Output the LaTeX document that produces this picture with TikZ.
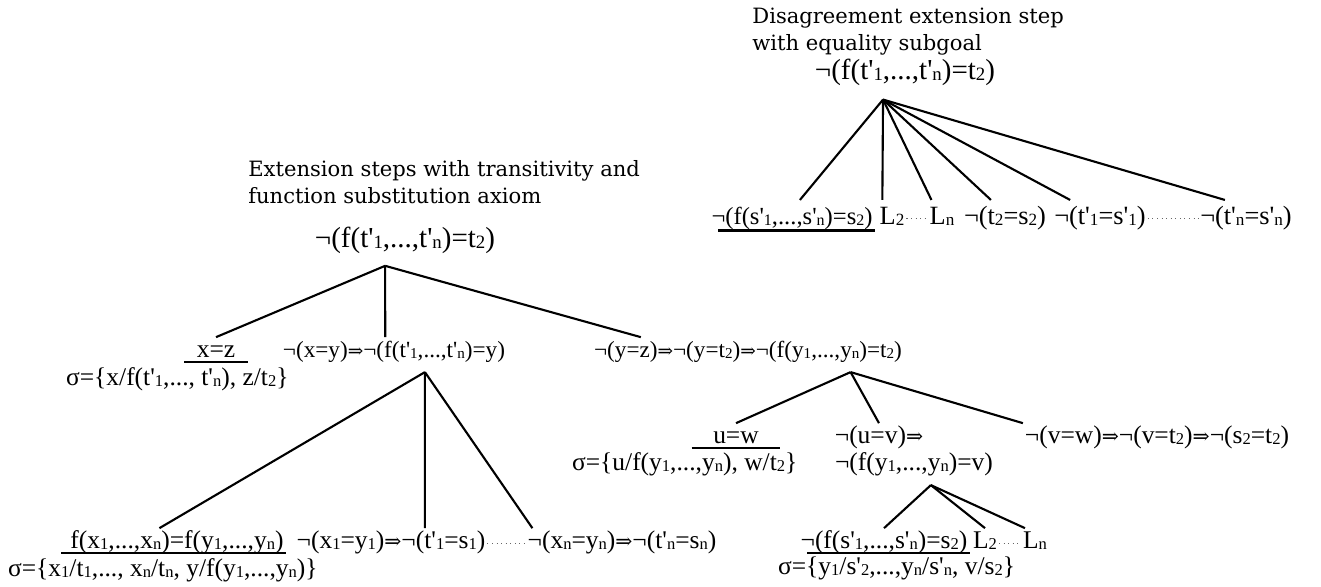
\documentclass[tikz,border=0pt]{standalone}
\usepackage{fontspec}
\setmainfont{Liberation Serif}
\newfontfamily\fmfont{Liberation Serif}
\newfontfamily\headfont{DejaVu Serif}
\newfontfamily\symfont{DejaVu Serif}
\newcommand{\lo}[1]{\raisebox{-0.1ex}{\scalebox{0.65}{#1}}}
\newcommand{\imp}{{\symfont\scalebox{0.8}{⇒}}}

\begin{document}
\begin{tikzpicture}[
  x=0.02cm, y=-0.02cm,
  fm/.style={font=\fmfont\fontsize{14.5pt}{18pt}\selectfont, inner sep=1pt,
    text height=10.5pt, text depth=4pt},
  mid/.style={fm, font=\fmfont\fontsize{13.2pt}{16pt}\selectfont},
  big/.style={font=\fmfont\fontsize{16.5pt}{20pt}\selectfont, inner sep=1pt,
    text height=12.5pt, text depth=4.5pt},
  leaf/.style={big, font=\fmfont\fontsize{15pt}{18pt}\selectfont},
  head/.style={font=\headfont\fontsize{12pt}{15.3pt}\selectfont, align=left, inner sep=0pt},
  edge/.style={line width=1.2pt},
  closed/.style={line width=1.2pt},
  leader/.style={dotted, line width=0.6pt, black!60}
]
\useasboundingbox (0,0) rectangle (1321,587);

% Disagreement step (top right)
\node[head, anchor=north west] (hd2) at (752,8) {Disagreement extension step\\with equality subgoal};
\node[big] (r2) at (905,72) {¬(f(t'\lo1,...,t'\lo n)=t\lo2)};
\coordinate (r2-ft) at ([xshift=-12.5pt,yshift=-6pt]r2.south);

\node[leaf, font=\fmfont\fontsize{14pt}{18pt}\selectfont] (s1n) at (792,217) {¬(f(s'\lo1,...,s'\lo n)=s\lo2)};
\node[leaf] (L2)   at (892,217)  {L\lo2};
\node[leaf] (Ln)   at (942,217)  {L\lo n};
\node[leaf] (t2s2) at (1005,217) {¬(t\lo2=s\lo2)};
\node[leaf] (t1s1) at (1100,217) {¬(t'\lo1=s'\lo1)};
\node[leaf] (tnsn) at (1246,217) {¬(t'\lo n=s'\lo n)};

\draw[edge] (r2-ft) -- ([xshift=4.5pt]s1n.north);
\draw[edge] (r2-ft) -- ([xshift=-5.5pt]L2.north);
\draw[edge] (r2-ft) -- ([xshift=-6pt]Ln.north);
\draw[edge] (r2-ft) -- ([xshift=-8pt]t2s2.north);
\draw[edge] (r2-ft) -- ([xshift=-17pt]t1s1.north);
\draw[edge] (r2-ft) -- ([xshift=-12pt]tnsn.north);

\draw[closed] ([xshift=5pt,yshift=2pt]s1n.south west) -- ([yshift=2pt]s1n.south east);
\draw[leader] ([yshift=3pt]L2.base east) -- ([yshift=3pt]Ln.base west);
\draw[leader] ([yshift=3pt]t1s1.base east) -- ([yshift=3pt]tnsn.base west);

% Transitivity and function substitution (left)
\node[head, anchor=north west] (hd1) at (248,160) {Extension steps with transitivity and\\function substitution axiom};
\node[big] (r1) at (405,240) {¬(f(t'\lo1,...,t'\lo n)=t\lo2)};
\coordinate (r1-ft) at ([xshift=-11.3pt,yshift=-5pt]r1.south);

\node[fm, minimum width=36pt] (xz) at (216,352) {x=z};
\node[fm, anchor=west] (sg1) at (64,380) {σ=\{x/f(t'\lo1,..., t'\lo n), z/t\lo2\}};
\node[mid] (c12) at (394,352) {¬(x=y)\imp¬(f(t'\lo1,...,t'\lo n)=y)};
\node[mid] (c13) at (748,352) {¬(y=z)\imp¬(y=t\lo2)\imp¬(f(y\lo1,...,y\lo n)=t\lo2)};

\draw[edge] (r1-ft) -- (xz.north);
\draw[edge] (r1-ft) -- ([xshift=-5pt]c12.north);
\draw[edge] (r1-ft) -- ([xshift=-61pt]c13.north);
\draw[closed] ([yshift=3pt]xz.south west) -- ([yshift=3pt]xz.south east);

% function substitution below
\coordinate (c12-ft) at ([xshift=17.6pt,yshift=-3pt]c12.south);
\node[fm] (fx) at (177,543) {f(x\lo1,...,x\lo n)=f(y\lo1,...,y\lo n)};
\node[fm, anchor=west] (sg2) at (6,571) {σ=\{x\lo1/t\lo1,..., x\lo n/t\lo n, y/f(y\lo1,...,y\lo n)\}};
\node[fm] (e1) at (391,543) {¬(x\lo1=y\lo1)\imp¬(t'\lo1=s\lo1)};
\node[fm] (en) at (622,543) {¬(x\lo n=y\lo n)\imp¬(t'\lo n=s\lo n)};

\draw[edge] (c12-ft) -- ([xshift=-10pt]fx.north);
\draw[edge] (c12-ft) -- ([xshift=19.3pt]e1.north);
\draw[edge] (c12-ft) -- ([xshift=-51pt]en.north);
\draw[closed] ([xshift=-4pt,yshift=3pt]fx.south west) -- ([yshift=3pt]fx.south east);
\draw[leader] ([yshift=3pt]e1.base east) -- ([yshift=3pt]en.base west);

% transitivity below
\coordinate (c13-ft) at ([xshift=58.4pt,yshift=-3pt]c13.south);
\node[fm, minimum width=50pt] (uw) at (736,438) {u=w};
\node[fm, anchor=west] (sg3) at (570,465) {σ=\{u/f(y\lo1,...,y\lo n), w/t\lo2\}};
\node[fm] (uv) at (879,438) {¬(u=v)\imp};
\node[fm] (fyv) at (914,465) {¬(f(y\lo1,...,y\lo n)=v)};
\node[fm] (vw) at (1157,438) {¬(v=w)\imp¬(v=t\lo2)\imp¬(s\lo2=t\lo2)};

\draw[edge] (c13-ft) -- (uw.north);
\draw[edge] (c13-ft) -- (uv.north);
\draw[edge] (c13-ft) -- (vw.north west);
\draw[closed] ([yshift=3pt]uw.south west) -- ([yshift=3pt]uw.south east);

% disagreement step below
\coordinate (fyv-ft) at ([xshift=9.6pt,yshift=-3pt]fyv.south);
\node[fm] (fs)  at (884,543)  {¬(f(s'\lo1,...,s'\lo n)=s\lo2)};
\node[fm] (L2b) at (985,543)  {L\lo2};
\node[fm] (Lnb) at (1035,543) {L\lo n};
\node[fm, anchor=west] (sg4) at (776,569) {σ=\{y\lo1/s'\lo2,...,y\lo n/s'\lo n, v/s\lo2\}};

\draw[edge] (fyv-ft) -- (fs.north);
\draw[edge] (fyv-ft) -- (L2b.north);
\draw[edge] (fyv-ft) -- ([xshift=-5.7pt]Lnb.north);
\draw[closed] ([xshift=5pt,yshift=3pt]fs.south west) -- ([yshift=3pt]fs.south east);
\draw[leader] ([yshift=3pt]L2b.base east) -- ([yshift=3pt]Lnb.base west);

\end{tikzpicture}
\end{document}
